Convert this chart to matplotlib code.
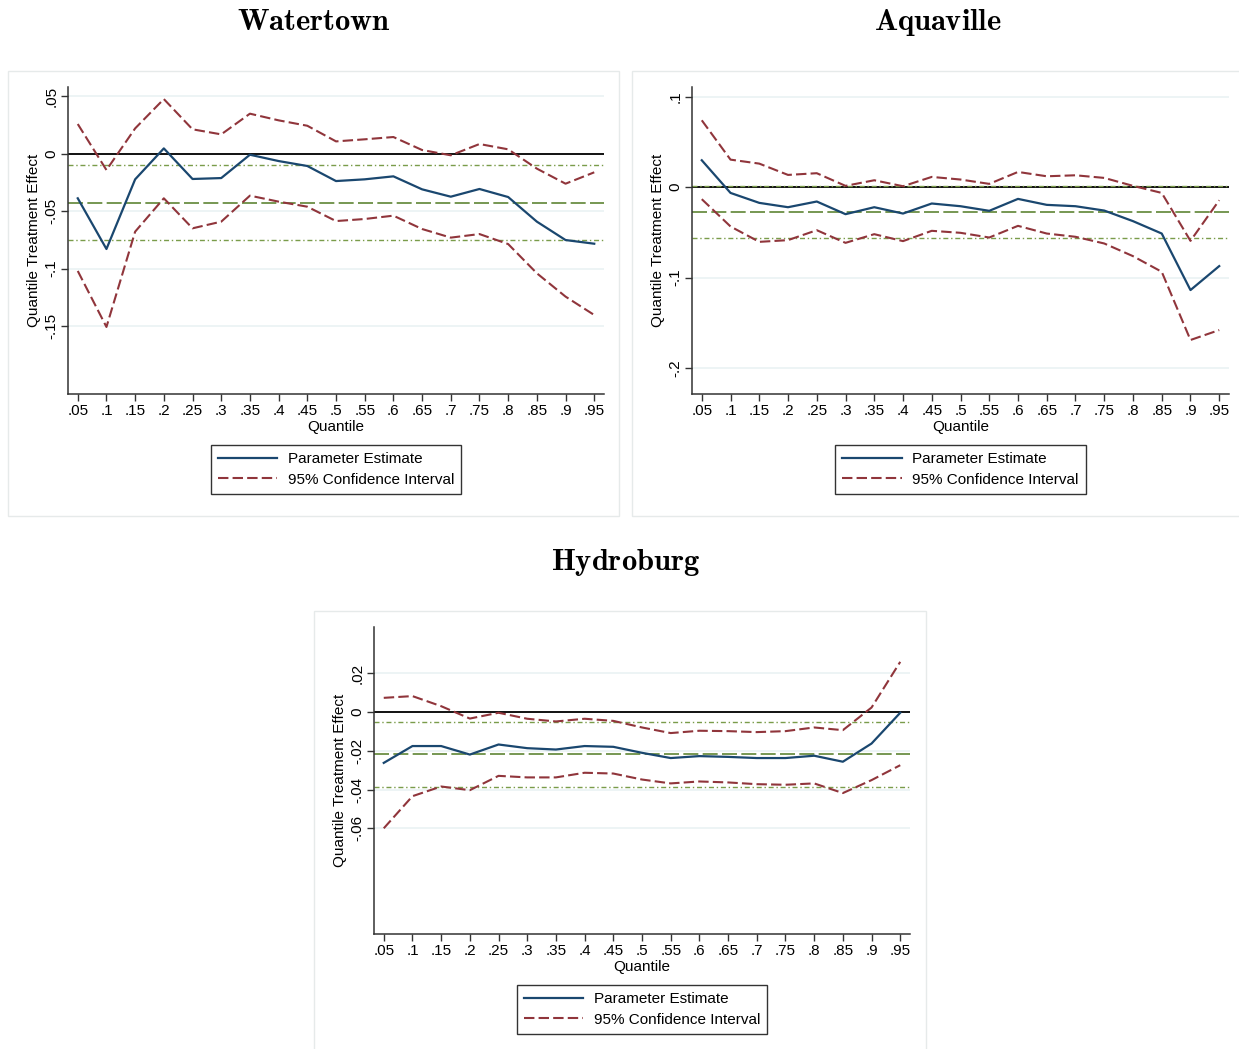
import matplotlib
matplotlib.use("Agg")
import matplotlib.pyplot as plt
from matplotlib.patches import Rectangle
from matplotlib.lines import Line2D

plt.rcParams['font.family'] = ['Liberation Sans', 'DejaVu Sans']
plt.rcParams['mathtext.fontset'] = 'cm'

# ---------------- data ----------------
quantiles = [0.05, 0.10, 0.15, 0.20, 0.25, 0.30, 0.35, 0.40, 0.45, 0.50,
             0.55, 0.60, 0.65, 0.70, 0.75, 0.80, 0.85, 0.90, 0.95]
x_tick_labels = ['.05', '.1', '.15', '.2', '.25', '.3', '.35', '.4', '.45', '.5',
                 '.55', '.6', '.65', '.7', '.75', '.8', '.85', '.9', '.95']

titles = ['Watertown', 'Aquaville', 'Hydroburg']

water_est = [-0.0388, -0.0829, -0.0223, 0.0046, -0.0220, -0.0212, -0.0009, -0.0064, -0.0107, -0.0238,
             -0.0223, -0.0197, -0.0310, -0.0374, -0.0307, -0.0377, -0.0591, -0.0751, -0.0783]
water_hi = [0.0258, -0.0142, 0.0220, 0.0475, 0.0212, 0.0168, 0.0348, 0.0290, 0.0243, 0.0107,
            0.0125, 0.0145, 0.0032, -0.0014, 0.0084, 0.0038, -0.0130, -0.0261, -0.0162]
water_lo = [-0.1020, -0.1507, -0.0678, -0.0388, -0.0649, -0.0591, -0.0365, -0.0417, -0.0461, -0.0586,
            -0.0568, -0.0539, -0.0655, -0.0730, -0.0699, -0.0786, -0.1040, -0.1243, -0.1403]
water_mean = -0.0426
water_band = [-0.0096, -0.0754]
water_yticks = [0.05, 0.0, -0.05, -0.10, -0.15]
water_ylabels = ['.05', '0', '-.05', '-.1', '-.15']

aqua_est = [0.0298, -0.0063, -0.0173, -0.0221, -0.0158, -0.0298, -0.0221, -0.0291, -0.0180, -0.0210,
            -0.0261, -0.0129, -0.0195, -0.0210, -0.0258, -0.0375, -0.0512, -0.1137, -0.0872]
aqua_hi = [0.0740, 0.0305, 0.0261, 0.0136, 0.0155, 0.0015, 0.0077, 0.0011, 0.0114, 0.0085,
           0.0037, 0.0169, 0.0121, 0.0132, 0.0103, 0.0015, -0.0063, -0.0593, -0.0144]
aqua_lo = [-0.0132, -0.0434, -0.0604, -0.0585, -0.0475, -0.0615, -0.0519, -0.0596, -0.0482, -0.0504,
           -0.0556, -0.0427, -0.0512, -0.0548, -0.0622, -0.0762, -0.0935, -0.1689, -0.1579]
aqua_mean = -0.0272
aqua_band = [0.0015, -0.0563]
aqua_yticks = [0.1, 0.0, -0.1, -0.2]
aqua_ylabels = ['.1', '0', '-.1', '-.2']

hydro_est = [-0.0262, -0.0175, -0.0175, -0.0219, -0.0167, -0.0186, -0.0193, -0.0175, -0.0179, -0.0210,
             -0.0237, -0.0227, -0.0231, -0.0237, -0.0237, -0.0225, -0.0256, -0.0162, -0.0003]
hydro_hi = [0.0074, 0.0083, 0.0031, -0.0033, -0.0003, -0.0034, -0.0048, -0.0034, -0.0045, -0.0079,
            -0.0108, -0.0096, -0.0098, -0.0103, -0.0098, -0.0079, -0.0093, 0.0024, 0.0260]
hydro_lo = [-0.0600, -0.0434, -0.0384, -0.0403, -0.0329, -0.0337, -0.0337, -0.0313, -0.0317, -0.0348,
            -0.0368, -0.0358, -0.0363, -0.0372, -0.0375, -0.0368, -0.0418, -0.0351, -0.0274]
hydro_mean = -0.0217
hydro_band = [-0.0050, -0.0387]
hydro_yticks = [0.02, 0.0, -0.02, -0.04, -0.06]
hydro_ylabels = ['.02', '0', '-.02', '-.04', '-.06']

legend_labels = ['Parameter Estimate', '95% Confidence Interval']
x_label = 'Quantile'
y_label = 'Quantile Treatment Effect'

# ---------------- layout ----------------
W, H = 1239, 1049
fig = plt.figure(figsize=(W / 100, H / 100), dpi=100)
fig.patch.set_facecolor('white')

def fx(px):
    return px / W

def fy(py):
    return 1 - py / H

C_EST = '#1a476f'
C_CI = '#90353b'
C_MEAN = '#5f8535'
C_BAND = '#7a9c4a'
C_GRID = '#eaf2f3'
FS = 11
CI_DASH = (5, 2)

panels = [
    dict(title=titles[0], est=water_est, hi=water_hi, lo=water_lo, mean=water_mean, band=water_band,
         yt=water_yticks, yl=water_ylabels, ylim=(-0.209, 0.058),
         box=(8, 71, 619, 516), ax=(68, 87, 604, 394), tx=314, ty=22, leg=445),
    dict(title=titles[1], est=aqua_est, hi=aqua_hi, lo=aqua_lo, mean=aqua_mean, band=aqua_band,
         yt=aqua_yticks, yl=aqua_ylabels, ylim=(-0.2286, 0.1108),
         box=(632, 71, 1245, 516), ax=(692, 87, 1229, 394), tx=938, ty=22, leg=445),
    dict(title=titles[2], est=hydro_est, hi=hydro_hi, lo=hydro_lo, mean=hydro_mean, band=hydro_band,
         yt=hydro_yticks, yl=hydro_ylabels, ylim=(-0.1146, 0.044),
         box=(314, 611, 926, 1060), ax=(374, 627, 910, 934), tx=626, ty=562, leg=985),
]

for p in panels:
    bx0, by0, bx1, by1 = p['box']
    fig.patches.append(Rectangle((fx(bx0), fy(by1)), fx(bx1 - bx0), (by1 - by0) / H,
                                 transform=fig.transFigure, facecolor='none',
                                 edgecolor='#e6eaea', lw=1.0, zorder=-1))
    x0, y0, x1, y1 = p['ax']
    ax = fig.add_axes([fx(x0), fy(y1), fx(x1 - x0), (y1 - y0) / H])
    ax.set_facecolor('none')
    ax.set_xlim(0.033, 0.967)
    ax.set_ylim(*p['ylim'])

    for yv in p['yt']:
        ax.axhline(yv, color=C_GRID, lw=1.2, zorder=1)
    ax.axhline(0, color='black', lw=1.3, zorder=2)
    ax.axhline(p['mean'], color=C_MEAN, lw=1.2, dashes=(9, 2.6), zorder=2)
    for b in p['band']:
        ax.axhline(b, color=C_BAND, lw=1.0, dashes=(3.6, 2, 1, 2), zorder=2)

    ax.plot(quantiles, p['est'], color=C_EST, lw=1.6, zorder=4)
    ax.plot(quantiles, p['hi'], color=C_CI, lw=1.5, dashes=CI_DASH, zorder=3)
    ax.plot(quantiles, p['lo'], color=C_CI, lw=1.5, dashes=CI_DASH, zorder=3)

    ax.set_xticks(quantiles)
    ax.set_xticklabels(x_tick_labels, fontsize=FS)
    ax.set_yticks(p['yt'])
    ax.set_yticklabels(p['yl'], fontsize=FS, rotation=90, va='center')
    ax.tick_params(axis='both', direction='out', length=5, width=1.0, color='#333333', pad=2)
    for s in ['top', 'right']:
        ax.spines[s].set_visible(False)
    for s in ['left', 'bottom']:
        ax.spines[s].set_color('#333333')
        ax.spines[s].set_linewidth(1.1)
    ax.set_xlabel(x_label, fontsize=FS, labelpad=1.5)
    ax.set_ylabel(y_label, fontsize=FS, labelpad=2.5)

    fig.text(fx(p['tx']), fy(p['ty']), r'$\mathbf{' + p['title'] + '}$',
             fontsize=22, ha='center', va='center')

    handles = [Line2D([], [], color=C_EST, lw=1.6),
               Line2D([], [], color=C_CI, lw=1.5, dashes=CI_DASH)]
    leg = ax.legend(handles, legend_labels, loc='upper center',
                    bbox_to_anchor=(fx((x0 + x1) / 2), fy(p['leg'])),
                    bbox_transform=fig.transFigure, fontsize=FS, frameon=True,
                    fancybox=False, edgecolor='black', handlelength=3.9,
                    handletextpad=0.7, borderpad=0.45, labelspacing=0.45,
                    borderaxespad=0)
    leg.get_frame().set_linewidth(1.0)

fig.savefig('out.png', dpi=100, facecolor='white')
